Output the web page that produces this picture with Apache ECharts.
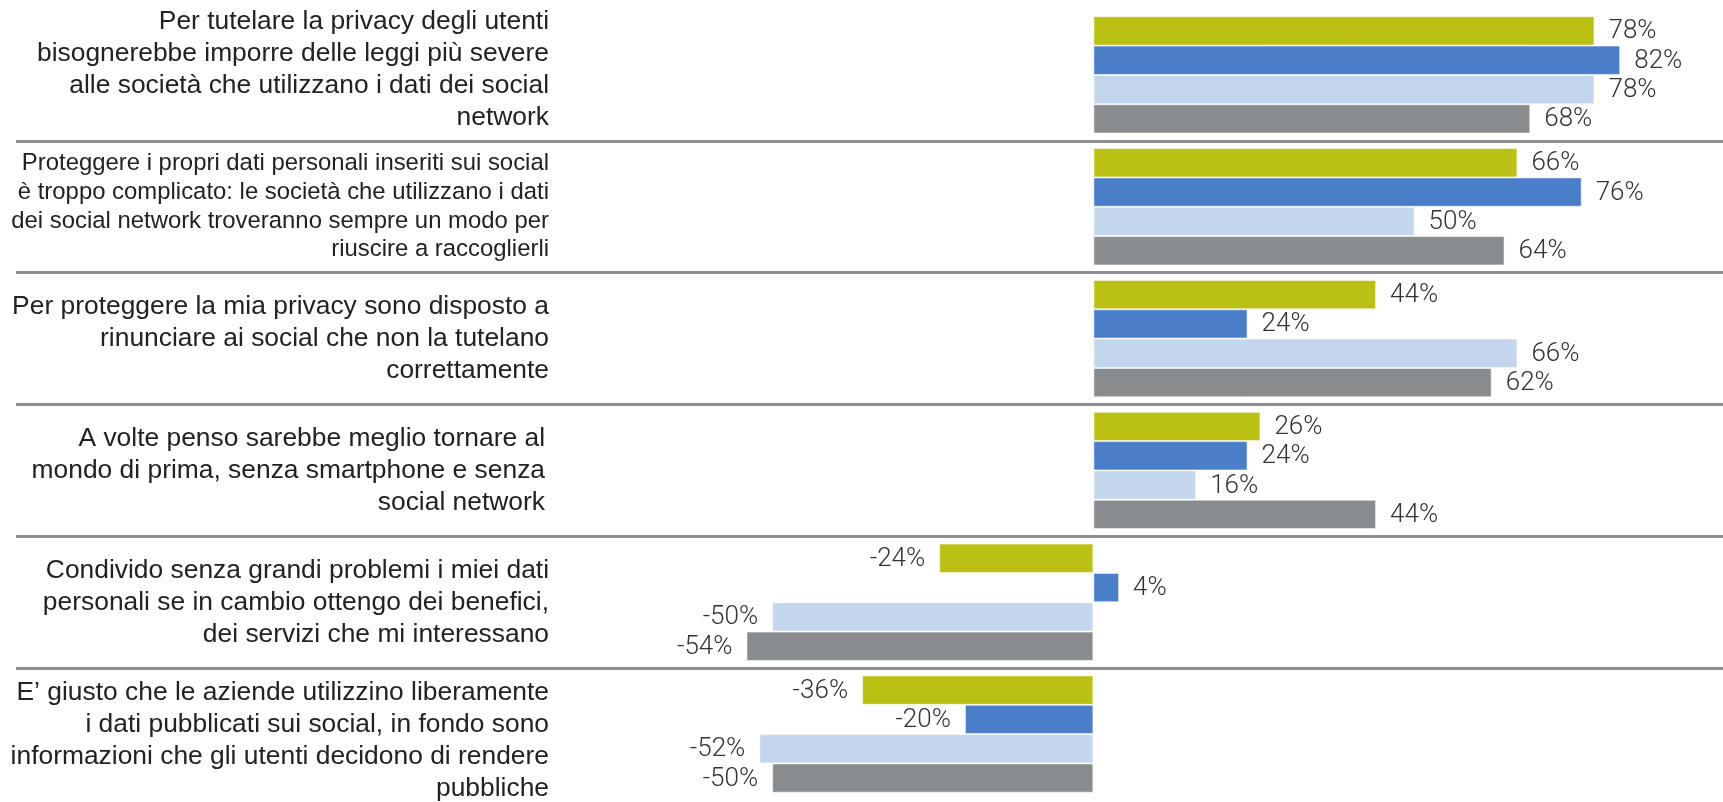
<!DOCTYPE html>
<html>
<head>
<meta charset="utf-8">
<script src="https://cdn.jsdelivr.net/npm/echarts@6/dist/echarts.min.js"></script>
<style>
html,body{margin:0;padding:0;background:#fff;}
#chart{width:1723px;height:802px;}
</style>
</head>
<body>
<div id="chart"></div>
<script>
const categories = [
  'Per tutelare la privacy degli utenti\nbisognerebbe imporre delle leggi più severe\nalle società che utilizzano i dati dei social\nnetwork',
  'Proteggere i propri dati personali inseriti sui social\nè troppo complicato: le società che utilizzano i dati\ndei social network troveranno sempre un modo per\nriuscire a raccoglierli',
  'Per proteggere la mia privacy sono disposto a\nrinunciare ai social che non la tutelano\ncorrettamente',
  'A volte penso sarebbe meglio tornare al\nmondo di prima, senza smartphone e senza\nsocial network',
  'Condivido senza grandi problemi i miei dati\npersonali se in cambio ottengo dei benefici,\ndei servizi che mi interessano',
  'E’ giusto che le aziende utilizzino liberamente\ni dati pubblicati sui social, in fondo sono\ninformazioni che gli utenti decidono di rendere\npubbliche'
];
const seriesNames = ['Serie 1', 'Serie 2', 'Serie 3', 'Serie 4'];
const serie1 = [78, 66, 44, 26, -24, -36];
const serie2 = [82, 76, 24, 24, 4, -20];
const serie3 = [78, 50, 66, 16, -50, -52];
const serie4 = [68, 64, 62, 44, -54, -50];
const colors = ['#bac114', '#4a7ec9', '#c4d6ee', '#898c8f'];

const allSeries = [serie1, serie2, serie3, serie4];

const chart = echarts.init(document.getElementById('chart'));
chart.setOption({
  animation: false,
  grid: { left: 16, right: 0, top: 9, bottom: 1 },
  xAxis: {
    type: 'value',
    min: -167.7,
    max: 98,
    show: false
  },
  yAxis: {
    type: 'category',
    inverse: true,
    data: categories,
    axisLine: { show: false },
    axisTick: { show: false },
    splitLine: {
      show: true,
      showMinLine: false,
      showMaxLine: false,
      lineStyle: { color: '#8c8e91', width: 3 }
    },
    axisLabel: {
      margin: -533,
      formatter: function (value, index) {
        if (index === 0) return '{m|' + value + '}\n{sp1| }';
        if (index === 1) return '{s|' + value + '}';
        if (index === 3) return '{n|' + value + '}';
        if (index === 5) return '{sp2| }\n{m|' + value + '}';
        return '{m|' + value + '}';
      },
      rich: {
        m: { fontFamily: 'Liberation Sans', fontSize: 26.4, lineHeight: 32, color: '#222', align: 'right' },
        s: { fontFamily: 'Liberation Sans', fontSize: 23.9, lineHeight: 28.6, color: '#222', align: 'right' },
        n: { fontFamily: 'Liberation Sans', fontSize: 26.4, lineHeight: 32, color: '#222', align: 'right', padding: [0, 4, 0, 0] },
        sp1: { fontSize: 8, lineHeight: 10 },
        sp2: { fontSize: 8, lineHeight: 14 }
      }
    }
  },
  series: allSeries.map(function (vals, i) {
    return {
      name: seriesNames[i],
      type: 'bar',
      barGap: '0%',
      barCategoryGap: '11%',
      itemStyle: { color: colors[i], borderColor: 'rgba(255,255,255,0.55)', borderWidth: 1 },
      label: {
        show: true,
        distance: 14,
        fontFamily: 'Roboto',
        fontWeight: 300,
        fontSize: 26,
        color: '#333',
        offset: [0, 1],
        formatter: function (p) { return p.value + '%'; }
      },
      data: vals.map(function (v) {
        return { value: v, label: { position: v < 0 ? 'left' : 'right' } };
      })
    };
  })
});
</script>
</body>
</html>
